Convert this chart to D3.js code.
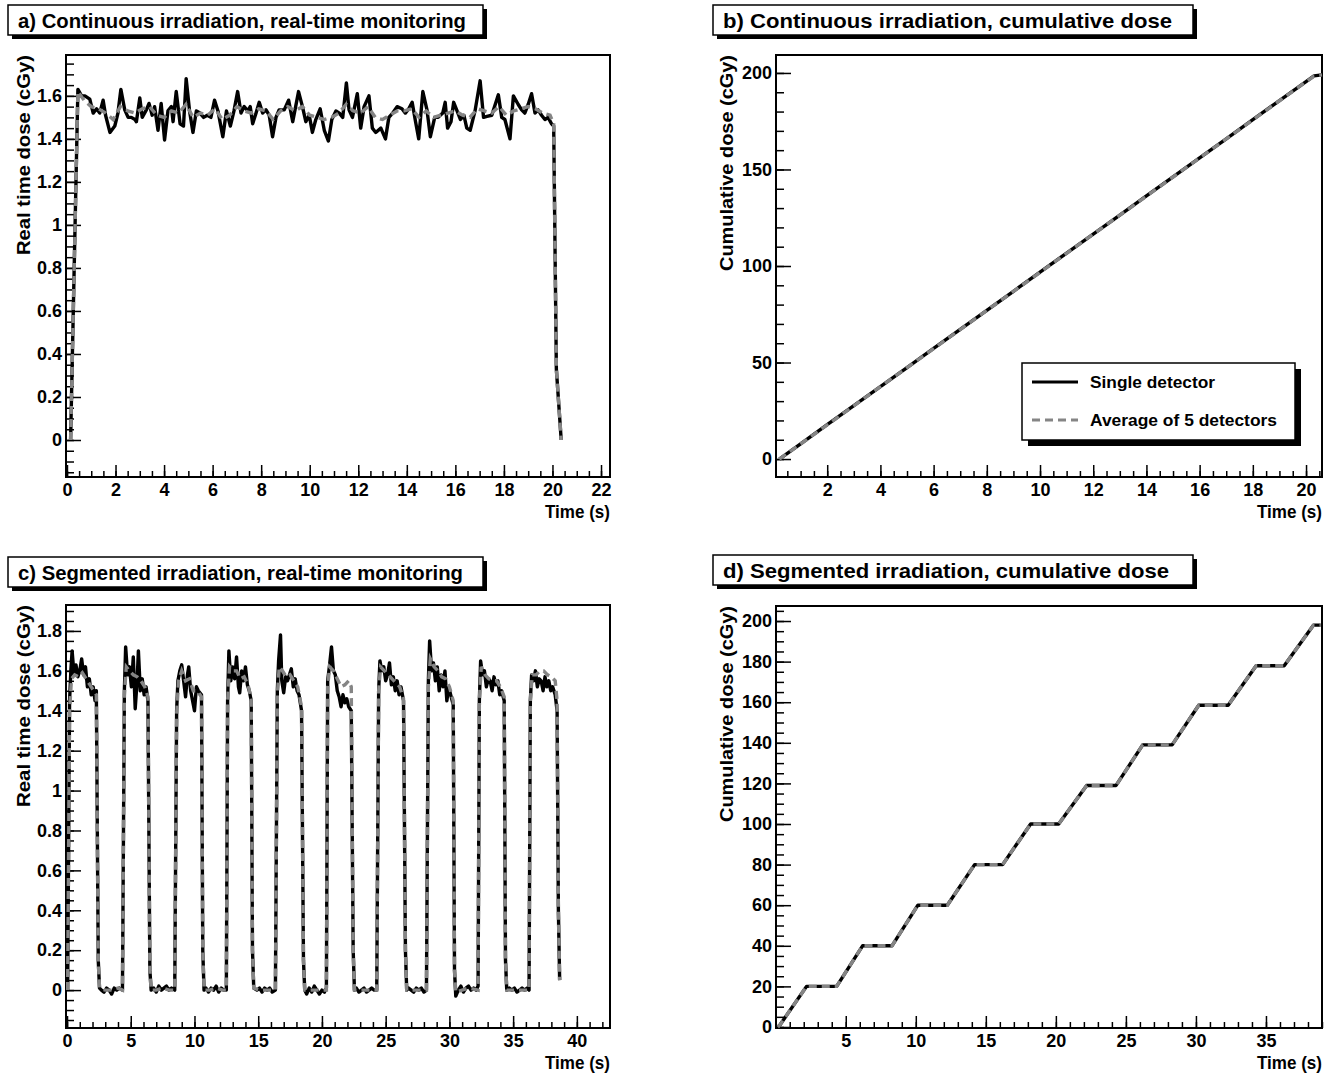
<!DOCTYPE html>
<html>
<head>
<meta charset="utf-8">
<title>Real-time and cumulative dose</title>
<script src="https://cdn.jsdelivr.net/npm/d3@7"></script>
<style>
  html, body { margin:0; padding:0; background:#fff; }
  svg { display:block; }
  text { font-family: "Liberation Sans", Arimo, Arial, Helvetica, sans-serif; font-weight: bold; fill: #000; }
</style>
</head>
<body>
<svg width="1341" height="1077"></svg>
<script>
// ---- data: [time (s), dose (cGy)] ----

// a) continuous irradiation, real-time dose
const singleA = [[0.15,0.00],[0.45,1.63],[0.6,1.60],[0.74,1.60],[0.94,1.585],[1.08,1.52],[1.22,1.54],[1.35,1.52],[1.49,1.58],[1.59,1.51],
  [1.77,1.43],[1.97,1.46],[2.10,1.52],[2.22,1.63],[2.38,1.535],[2.52,1.50],[2.65,1.50],[2.80,1.49],[2.86,1.48],[3.00,1.59],
  [3.10,1.50],[3.27,1.535],[3.38,1.565],[3.51,1.51],[3.61,1.55],[3.75,1.44],[3.88,1.565],[4.02,1.395],[4.16,1.53],[4.30,1.55],
  [4.37,1.48],[4.50,1.62],[4.66,1.47],[4.80,1.46],[4.91,1.68],[5.05,1.53],[5.19,1.43],[5.33,1.53],[5.48,1.52],[5.63,1.50],
  [5.78,1.51],[5.93,1.50],[6.08,1.58],[6.22,1.53],[6.42,1.41],[6.57,1.53],[6.73,1.46],[6.88,1.53],[7.03,1.62],[7.17,1.52],
  [7.30,1.55],[7.45,1.53],[7.55,1.55],[7.65,1.47],[7.79,1.52],[7.92,1.57],[8.06,1.52],[8.20,1.535],[8.33,1.51],[8.47,1.41],
  [8.61,1.50],[8.74,1.535],[8.95,1.535],[9.13,1.58],[9.30,1.48],[9.54,1.62],[9.70,1.55],[9.84,1.48],[9.98,1.51],[10.11,1.43],
  [10.25,1.49],[10.43,1.54],[10.60,1.44],[10.77,1.39],[10.91,1.49],[11.08,1.53],[11.22,1.52],[11.36,1.50],[11.51,1.66],[11.62,1.535],
  [11.76,1.50],[11.96,1.61],[12.10,1.45],[12.24,1.55],[12.44,1.60],[12.58,1.45],[12.72,1.43],[12.93,1.45],[13.12,1.40],[13.26,1.50],
  [13.42,1.52],[13.60,1.55],[13.80,1.54],[13.94,1.52],[14.08,1.54],[14.22,1.57],[14.36,1.48],[14.49,1.40],[14.66,1.62],[14.83,1.535],
  [14.97,1.41],[15.15,1.50],[15.29,1.50],[15.48,1.52],[15.58,1.57],[15.68,1.45],[15.82,1.48],[15.93,1.57],[16.07,1.53],[16.21,1.49],
  [16.35,1.51],[16.47,1.45],[16.61,1.44],[16.81,1.53],[17.02,1.67],[17.16,1.50],[17.30,1.505],[17.50,1.51],[17.77,1.605],[17.91,1.50],
  [18.04,1.49],[18.25,1.40],[18.39,1.60],[18.59,1.56],[18.73,1.535],[18.86,1.52],[19.00,1.56],[19.14,1.61],[19.28,1.52],[19.41,1.535],
  [19.55,1.51],[19.69,1.49],[19.82,1.50],[19.96,1.47],[20.05,1.46],[20.16,0.33],[20.36,0.00]];
const averageA = [[0.15,0.0],[0.45,1.62],[0.7,1.58],[1.0,1.55],[1.3,1.54],[1.6,1.52],[1.9,1.49],[2.2,1.55],[2.5,1.53],[2.8,1.52],
  [3.1,1.54],[3.4,1.55],[3.7,1.51],[4.0,1.50],[4.3,1.53],[4.6,1.52],[4.9,1.56],[5.2,1.50],[5.5,1.52],[5.8,1.51],
  [6.1,1.54],[6.4,1.49],[6.7,1.51],[7.0,1.55],[7.3,1.53],[7.6,1.52],[7.9,1.54],[8.2,1.53],[8.5,1.49],[8.8,1.53],
  [9.1,1.55],[9.4,1.53],[9.7,1.55],[10.0,1.51],[10.3,1.50],[10.6,1.49],[10.9,1.50],[11.2,1.52],[11.5,1.56],[11.8,1.53],
  [12.1,1.52],[12.4,1.55],[12.7,1.50],[13.0,1.49],[13.3,1.51],[13.6,1.53],[13.9,1.53],[14.2,1.54],[14.5,1.50],[14.8,1.53],
  [15.1,1.50],[15.4,1.51],[15.7,1.52],[16.0,1.53],[16.3,1.51],[16.6,1.50],[16.9,1.54],[17.2,1.53],[17.5,1.52],[17.8,1.55],
  [18.1,1.51],[18.4,1.53],[18.7,1.54],[19.0,1.55],[19.3,1.54],[19.6,1.52],[19.9,1.51],[20.05,1.47],[20.16,0.33],[20.36,0.0]];

// b) continuous irradiation, cumulative dose
const singleB = [[0.2,0],[1,7.9],[2,17.8],[3,27.7],[4,37.5],[5,47.4],[6,57.3],[7,67.2],[8,77.0],[9,86.9],[10,96.8],
  [11,106.7],[12,116.5],[13,126.4],[14,136.3],[15,146.2],[16,156.0],[17,165.9],[18,175.8],[19,185.7],[20,195.5],[20.3,198.5],[20.6,199]];
const averageB = [[0.2,0],[1,7.8],[2,17.7],[3,27.6],[4,37.5],[5,47.3],[6,57.2],[7,67.1],[8,77.0],[9,86.8],[10,96.7],
  [11,106.6],[12,116.5],[13,126.3],[14,136.2],[15,146.1],[16,156.0],[17,165.8],[18,175.7],[19,185.6],[20,195.4],[20.3,198.4],[20.6,199]];

// c) segmented irradiation, real-time dose
const singleC = [[0.05,0.0],[0.2,1.45],[0.3,1.60],[0.4,1.70],[0.55,1.58],[0.7,1.63],[0.85,1.57],[1.0,1.60],[1.15,1.66],[1.3,1.58],[1.45,1.62],[1.6,1.52],[1.75,1.56],[1.9,1.48],[2.05,1.52],[2.2,1.45],[2.3,1.50],[2.45,0.15],[2.55,0.01],
  [2.7,0.0],[2.9,-0.01],[3.1,0.01],[3.3,0.0],[3.5,-0.02],[3.7,0.01],[3.9,0.0],[4.1,0.01],[4.35,0.0],
  [4.5,1.50],[4.6,1.72],[4.75,1.58],[4.9,1.62],[5.05,1.52],[5.2,1.67],[5.35,1.41],[5.5,1.55],[5.6,1.70],[5.75,1.50],[5.9,1.56],[6.05,1.48],[6.2,1.52],[6.35,1.45],[6.5,0.1],[6.6,0.0],
  [6.8,0.01],[7.0,-0.01],[7.2,0.02],[7.4,0.0],[7.6,0.01],[7.8,0.02],[8.0,0.0],[8.2,0.01],[8.45,0.0],
  [8.6,1.40],[8.7,1.55],[8.85,1.60],[9.0,1.63],[9.15,1.55],[9.3,1.47],[9.45,1.58],[9.55,1.62],[9.7,1.50],[9.85,1.45],[10.0,1.40],[10.15,1.52],[10.3,1.50],[10.55,1.48],[10.65,0.2],[10.75,0.0],
  [10.9,0.01],[11.1,-0.01],[11.3,0.01],[11.5,0.0],[11.7,0.02],[11.9,-0.01],[12.1,0.01],[12.3,0.0],[12.5,0.0],
  [12.6,1.45],[12.7,1.70],[12.85,1.55],[13.0,1.62],[13.15,1.56],[13.3,1.67],[13.45,1.52],[13.55,1.49],[13.7,1.60],[13.85,1.55],[14.0,1.62],[14.15,1.53],[14.3,1.50],[14.45,1.45],[14.55,0.2],[14.65,0.01],
  [14.9,0.0],[15.1,0.01],[15.3,-0.01],[15.5,0.01],[15.7,0.0],[15.9,0.01],[16.1,-0.01],[16.35,0.0],
  [16.5,1.50],[16.6,1.65],[16.75,1.78],[16.85,1.55],[17.0,1.49],[17.15,1.57],[17.3,1.55],[17.45,1.58],[17.6,1.61],[17.75,1.52],[17.9,1.56],[18.05,1.50],[18.2,1.48],[18.4,1.40],[18.55,0.15],[18.65,0.0],
  [18.8,-0.02],[19.0,0.01],[19.2,-0.01],[19.4,0.02],[19.6,0.0],[19.8,-0.02],[20.0,0.0],[20.2,-0.01],[20.35,0.01],
  [20.45,1.55],[20.6,1.63],[20.75,1.72],[20.9,1.60],[21.05,1.58],[21.2,1.50],[21.35,1.47],[21.5,1.42],[21.65,1.48],[21.8,1.44],[21.95,1.46],[22.1,1.42],[22.3,1.40],[22.45,0.2],[22.55,0.0],
  [22.7,0.01],[22.9,-0.01],[23.1,0.0],[23.3,0.01],[23.5,-0.01],[23.7,0.0],[23.9,0.01],[24.1,0.0],[24.3,0.0],
  [24.45,1.50],[24.55,1.65],[24.7,1.60],[24.85,1.62],[25.0,1.55],[25.15,1.58],[25.3,1.64],[25.45,1.53],[25.6,1.57],[25.75,1.50],[25.9,1.55],[26.05,1.48],[26.2,1.52],[26.4,1.45],[26.55,0.2],[26.65,0.0],
  [26.8,0.01],[27.0,0.0],[27.2,-0.01],[27.4,0.01],[27.6,0.0],[27.8,0.01],[28.0,-0.01],[28.2,0.0],
  [28.35,1.55],[28.45,1.75],[28.6,1.60],[28.75,1.64],[28.9,1.55],[29.05,1.62],[29.2,1.50],[29.35,1.58],[29.5,1.52],[29.65,1.60],[29.8,1.45],[29.95,1.52],[30.1,1.48],[30.3,1.43],[30.4,0.1],[30.5,-0.03],
  [30.7,0.0],[30.9,0.02],[31.1,-0.01],[31.3,0.01],[31.5,0.02],[31.7,0.0],[31.9,0.01],[32.1,0.0],[32.25,0.02],
  [32.35,1.45],[32.45,1.65],[32.6,1.58],[32.75,1.60],[32.9,1.52],[33.05,1.56],[33.2,1.55],[33.35,1.50],[33.5,1.57],[33.65,1.53],[33.8,1.55],[33.95,1.48],[34.1,1.50],[34.3,1.45],[34.4,0.15],[34.5,0.0],
  [34.7,0.01],[34.9,0.0],[35.1,0.01],[35.3,-0.01],[35.5,0.0],[35.7,0.01],[35.9,0.0],[36.1,0.01],[36.25,0.0],
  [36.35,1.45],[36.45,1.58],[36.6,1.55],[36.75,1.60],[36.9,1.52],[37.05,1.56],[37.2,1.55],[37.35,1.50],[37.5,1.57],[37.65,1.52],[37.8,1.55],[37.95,1.50],[38.1,1.52],[38.3,1.48],[38.45,1.40],[38.55,0.4],[38.65,0.05]];
const averageC = [[0.05,0],[0.2,1.40],[0.35,1.56],[0.6,1.58],[0.9,1.57],[1.2,1.59],[1.5,1.56],[1.8,1.53],[2.1,1.50],[2.3,1.48],[2.45,0.15],[2.55,0.01],[3.0,0.0],[3.5,0.0],[4.0,0.01],[4.35,0.0],
  [4.5,1.48],[4.65,1.62],[4.9,1.60],[5.2,1.58],[5.5,1.57],[5.8,1.55],[6.1,1.52],[6.35,1.47],[6.5,0.1],[6.6,0.0],[7.0,0.0],[7.5,0.01],[8.0,0.0],[8.45,0.0],
  [8.6,1.38],[8.75,1.55],[9.0,1.60],[9.3,1.55],[9.6,1.56],[9.9,1.50],[10.2,1.50],[10.55,1.47],[10.65,0.2],[10.75,0.0],[11.2,0.0],[11.7,0.01],[12.2,0.0],[12.5,0.0],
  [12.6,1.45],[12.75,1.62],[13.0,1.60],[13.3,1.60],[13.6,1.56],[13.9,1.57],[14.2,1.53],[14.45,1.46],[14.55,0.2],[14.65,0.01],[15.1,0.0],[15.6,0.0],[16.1,0.0],[16.35,0.0],
  [16.5,1.48],[16.65,1.62],[16.9,1.60],[17.2,1.57],[17.5,1.58],[17.8,1.55],[18.1,1.52],[18.4,1.42],[18.55,0.15],[18.65,0.0],[19.1,0.0],[19.6,0.0],[20.1,0.0],[20.35,0.0],
  [20.45,1.52],[20.6,1.62],[20.9,1.60],[21.2,1.56],[21.5,1.52],[21.8,1.53],[22.1,1.55],[22.3,1.52],[22.45,0.2],[22.55,0.0],[23.0,0.0],[23.5,0.0],[24.0,0.0],[24.3,0.0],
  [24.45,1.50],[24.6,1.62],[24.9,1.60],[25.2,1.58],[25.5,1.56],[25.8,1.54],[26.1,1.52],[26.4,1.46],[26.55,0.2],[26.65,0.0],[27.1,0.0],[27.6,0.0],[28.2,0.0],
  [28.35,1.52],[28.5,1.66],[28.8,1.62],[29.1,1.60],[29.4,1.57],[29.7,1.56],[30.0,1.52],[30.3,1.45],[30.4,0.1],[30.5,-0.01],[31.0,0.0],[31.5,0.01],[32.25,0.0],
  [32.35,1.45],[32.5,1.62],[32.8,1.58],[33.1,1.56],[33.4,1.55],[33.7,1.55],[34.0,1.52],[34.3,1.47],[34.4,0.15],[34.5,0.0],[35.0,0.0],[35.5,0.0],[36.25,0.0],
  [36.35,1.45],[36.5,1.58],[36.8,1.58],[37.1,1.60],[37.4,1.60],[37.7,1.58],[38.0,1.57],[38.3,1.55],[38.45,1.45],[38.55,0.4],[38.65,0.05]];

// d) segmented irradiation, cumulative dose
const singleD = [[0.15,0],[0.3,1],[2.2,20],[4.35,20],[6.2,40],[8.3,40],[10.15,60],[12.25,60],[14.2,80],[16.2,80],[18.2,100],[20.2,100],
  [22.2,119],[24.3,119],[26.2,139],[28.3,139],[30.2,158.5],[32.3,158.5],[34.3,178],[36.3,178],[38.4,198],[38.9,198]];
const averageD = [[0.15,0],[0.3,1],[2.2,20],[4.35,20],[6.2,40],[8.3,40],[10.15,60],[12.25,60],[14.2,80],[16.2,80],[18.2,100],[20.2,100],
  [22.2,119],[24.3,119],[26.2,139],[28.3,139],[30.2,158.5],[32.3,158.5],[34.3,178],[36.3,178],[38.4,198],[38.9,198]];

const legendLabels = ["Single detector", "Average of 5 detectors"];

const panels = [
  { title: "a) Continuous irradiation, real-time monitoring", titleBox: [8, 5, 483, 35], titleW: 448,
    left: 66, top: 55, right: 610, bottom: 477,
    xDomain: [-0.04, 22.37], yDomain: [-0.172, 1.79], xMajor: 2, xMinor: 0.5, yMajor: 0.2, yMinor: 0.05,
    yTitle: "Real time dose (cGy)", yTitleW: 200, yTitleOff: 36, single: singleA, average: averageA },
  { title: "b) Continuous irradiation, cumulative dose", titleBox: [713, 5, 1193, 35], titleW: 449,
    left: 776, top: 55, right: 1322, bottom: 477,
    xDomain: [0.075, 20.6], yDomain: [-9.3, 209.3], xMajor: 2, xMinor: 0.5, yMajor: 50, yMinor: 10,
    yTitle: "Cumulative dose (cGy)", yTitleW: 216, yTitleOff: 43, single: singleB, average: averageB, legend: true },
  { title: "c) Segmented irradiation, real-time monitoring", titleBox: [8, 557, 483, 587], titleW: 445,
    left: 66, top: 605, right: 610, bottom: 1028,
    xDomain: [-0.08, 42.6], yDomain: [-0.19, 1.93], xMajor: 5, xMinor: 1, yMajor: 0.2, yMinor: 0.05,
    yTitle: "Real time dose (cGy)", yTitleW: 202, yTitleOff: 36, single: singleC, average: averageC },
  { title: "d) Segmented irradiation, cumulative dose", titleBox: [713, 555, 1193, 585], titleW: 446,
    left: 776, top: 606, right: 1322, bottom: 1028,
    xDomain: [0.02, 39.0], yDomain: [-0.5, 207.4], xMajor: 5, xMinor: 1, yMajor: 20, yMinor: 5,
    yTitle: "Cumulative dose (cGy)", yTitleW: 216, yTitleOff: 43, single: singleD, average: averageD }
];

const svg = d3.select("svg");
const fmt = d3.format("~g");

function stepTicks(domain, step) {
  const out = [];
  for (let k = Math.ceil(domain[0] / step - 1e-9); k * step <= domain[1] + 1e-9; k++) {
    out.push(+(k * step).toFixed(4));
  }
  return out;
}

function drawPanel(p) {
  const g = svg.append("g");
  const x = d3.scaleLinear().domain(p.xDomain).range([p.left, p.right]);
  const y = d3.scaleLinear().domain(p.yDomain).range([p.bottom, p.top]);

  // title box with shadow
  const [bx0, by0, bx1, by1] = p.titleBox;
  g.append("rect").attr("x", bx0 + 4).attr("y", by0 + 4).attr("width", bx1 - bx0).attr("height", by1 - by0).attr("fill", "#000");
  g.append("rect").attr("x", bx0).attr("y", by0).attr("width", bx1 - bx0).attr("height", by1 - by0)
    .attr("fill", "#fff").attr("stroke", "#000").attr("stroke-width", 1.5);
  g.append("text").attr("x", bx0 + 10).attr("y", by0 + 23).attr("font-size", 21)
    .attr("textLength", p.titleW).attr("lengthAdjust", "spacingAndGlyphs").text(p.title);

  // axes: minor ticks, then major ticks with labels (ticks drawn inward)
  const xMinorAxis = g.append("g").attr("transform", `translate(0,${p.bottom})`)
    .call(d3.axisBottom(x).tickValues(stepTicks(p.xDomain, p.xMinor)).tickSize(-6).tickFormat(""));
  const xMajorAxis = g.append("g").attr("transform", `translate(0,${p.bottom})`)
    .call(d3.axisBottom(x).tickValues(stepTicks(p.xDomain, p.xMajor)).tickSize(-12).tickPadding(6).tickFormat(fmt));
  const yMinorAxis = g.append("g").attr("transform", `translate(${p.left},0)`)
    .call(d3.axisLeft(y).tickValues(stepTicks(p.yDomain, p.yMinor)).tickSize(-8).tickFormat(""));
  const yMajorAxis = g.append("g").attr("transform", `translate(${p.left},0)`)
    .call(d3.axisLeft(y).tickValues(stepTicks(p.yDomain, p.yMajor)).tickSize(-15).tickPadding(4).tickFormat(fmt));
  [xMinorAxis, xMajorAxis, yMinorAxis, yMajorAxis].forEach(a => {
    a.select(".domain").remove();
    a.selectAll("line").attr("stroke", "#000").attr("stroke-width", 1.5);
    a.selectAll("text").attr("font-size", 18).attr("font-family", null).style("fill", "#000");
  });

  // frame
  g.append("rect").attr("x", p.left).attr("y", p.top)
    .attr("width", p.right - p.left).attr("height", p.bottom - p.top)
    .attr("fill", "none").attr("stroke", "#000").attr("stroke-width", 2);

  // axis titles
  g.append("text").attr("x", p.right).attr("y", p.bottom + 41).attr("text-anchor", "end")
    .attr("font-size", 19).attr("textLength", 65).attr("lengthAdjust", "spacingAndGlyphs").text("Time (s)");
  g.append("text").attr("transform", `translate(${p.left - p.yTitleOff},${p.top + p.yTitleW}) rotate(-90)`)
    .attr("font-size", 18).attr("textLength", p.yTitleW).attr("lengthAdjust", "spacingAndGlyphs").text(p.yTitle);

  // series
  const line = d3.line().x(d => x(d[0])).y(d => y(d[1]));
  g.append("path").datum(p.single).attr("d", line)
    .attr("fill", "none").attr("stroke", "#000").attr("stroke-width", 3.4).attr("stroke-linejoin", "round");
  g.append("path").datum(p.average).attr("d", line)
    .attr("fill", "none").attr("stroke", "#858585").attr("stroke-width", 3.4).attr("stroke-dasharray", "8,5");

  if (p.legend) drawLegend(g);
}

function drawLegend(g) {
  const lx = 1022, ly = 363, lw = 273, lh = 77;
  g.append("rect").attr("x", lx + 6).attr("y", ly + 6).attr("width", lw).attr("height", lh).attr("fill", "#000");
  g.append("rect").attr("x", lx).attr("y", ly).attr("width", lw).attr("height", lh)
    .attr("fill", "#fff").attr("stroke", "#000").attr("stroke-width", 1.5);
  const styles = [{ stroke: "#000", dash: null }, { stroke: "#858585", dash: "8,5" }];
  const widths = [125, 187];
  legendLabels.forEach((label, i) => {
    const yy = ly + 19 + i * 38;
    g.append("line").attr("x1", lx + 10).attr("x2", lx + 56).attr("y1", yy).attr("y2", yy)
      .attr("stroke", styles[i].stroke).attr("stroke-width", 3.2).attr("stroke-dasharray", styles[i].dash);
    g.append("text").attr("x", lx + 68).attr("y", yy + 6).attr("font-size", 17)
      .attr("textLength", widths[i]).attr("lengthAdjust", "spacingAndGlyphs").text(label);
  });
}

panels.forEach(drawPanel);
</script>
</body>
</html>
